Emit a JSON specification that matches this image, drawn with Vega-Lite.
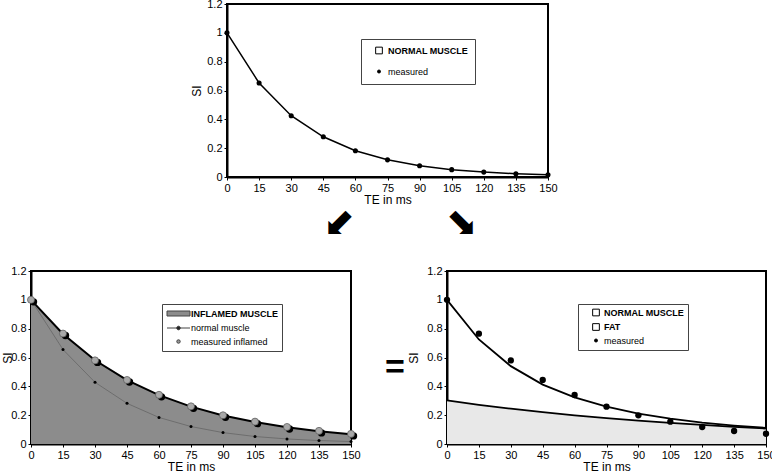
{
  "$schema": "https://vega.github.io/schema/vega-lite/v6.json",
  "background": "white",
  "padding": {"left": 0, "top": -3, "right": 0, "bottom": 0},
  "config": {
    "font": "Liberation Sans",
    "view": {"stroke": "black", "strokeWidth": 2},
    "axis": {"grid": false, "domainColor": "black", "domainWidth": 2, "tickColor": "black", "tickSize": 3, "tickWidth": 1, "labelColor": "black", "labelFontSize": 11, "labelFont": "Liberation Sans", "titleFont": "Liberation Sans", "titleFontSize": 12, "titleFontWeight": "normal", "titleColor": "black", "labelPadding": 2, "labelFlush": false, "labelOverlap": false},
    "legend": {"labelFont": "Liberation Sans", "labelFontSize": 9, "labelColor": "black", "symbolStrokeWidth": 1, "symbolFillColor": "white", "strokeColor": "#444", "fillColor": "white"}
  },
  "datasets": {
    "top": [
      {"series": "NORMAL MUSCLE", "TE": 0, "SI": 1}, {"series": "NORMAL MUSCLE", "TE": 15, "SI": 0.652}, {"series": "NORMAL MUSCLE", "TE": 30, "SI": 0.425}, {"series": "NORMAL MUSCLE", "TE": 45, "SI": 0.279}, {"series": "NORMAL MUSCLE", "TE": 60, "SI": 0.182}, {"series": "NORMAL MUSCLE", "TE": 75, "SI": 0.119}, {"series": "NORMAL MUSCLE", "TE": 90, "SI": 0.078}, {"series": "NORMAL MUSCLE", "TE": 105, "SI": 0.051}, {"series": "NORMAL MUSCLE", "TE": 120, "SI": 0.034}, {"series": "NORMAL MUSCLE", "TE": 135, "SI": 0.023}, {"series": "NORMAL MUSCLE", "TE": 150, "SI": 0.016},
      {"series": "measured", "TE": 0, "SI": 1}, {"series": "measured", "TE": 15, "SI": 0.652}, {"series": "measured", "TE": 30, "SI": 0.425}, {"series": "measured", "TE": 45, "SI": 0.279}, {"series": "measured", "TE": 60, "SI": 0.182}, {"series": "measured", "TE": 75, "SI": 0.119}, {"series": "measured", "TE": 90, "SI": 0.078}, {"series": "measured", "TE": 105, "SI": 0.051}, {"series": "measured", "TE": 120, "SI": 0.034}, {"series": "measured", "TE": 135, "SI": 0.023}, {"series": "measured", "TE": 150, "SI": 0.016}
    ],
    "left": [
      {"series": "INFLAMED MUSCLE", "TE": 0, "SI": 1}, {"series": "INFLAMED MUSCLE", "TE": 15, "SI": 0.763}, {"series": "INFLAMED MUSCLE", "TE": 30, "SI": 0.581}, {"series": "INFLAMED MUSCLE", "TE": 45, "SI": 0.443}, {"series": "INFLAMED MUSCLE", "TE": 60, "SI": 0.339}, {"series": "INFLAMED MUSCLE", "TE": 75, "SI": 0.259}, {"series": "INFLAMED MUSCLE", "TE": 90, "SI": 0.198}, {"series": "INFLAMED MUSCLE", "TE": 105, "SI": 0.152}, {"series": "INFLAMED MUSCLE", "TE": 120, "SI": 0.116}, {"series": "INFLAMED MUSCLE", "TE": 135, "SI": 0.089}, {"series": "INFLAMED MUSCLE", "TE": 150, "SI": 0.068},
      {"series": "normal muscle", "TE": 0, "SI": 1}, {"series": "normal muscle", "TE": 15, "SI": 0.655}, {"series": "normal muscle", "TE": 30, "SI": 0.428}, {"series": "normal muscle", "TE": 45, "SI": 0.282}, {"series": "normal muscle", "TE": 60, "SI": 0.184}, {"series": "normal muscle", "TE": 75, "SI": 0.121}, {"series": "normal muscle", "TE": 90, "SI": 0.079}, {"series": "normal muscle", "TE": 105, "SI": 0.052}, {"series": "normal muscle", "TE": 120, "SI": 0.035}, {"series": "normal muscle", "TE": 135, "SI": 0.024}, {"series": "normal muscle", "TE": 150, "SI": 0.017},
      {"series": "measured inflamed", "TE": 0, "SI": 1}, {"series": "measured inflamed", "TE": 15, "SI": 0.766}, {"series": "measured inflamed", "TE": 30, "SI": 0.58}, {"series": "measured inflamed", "TE": 45, "SI": 0.444}, {"series": "measured inflamed", "TE": 60, "SI": 0.341}, {"series": "measured inflamed", "TE": 75, "SI": 0.261}, {"series": "measured inflamed", "TE": 90, "SI": 0.199}, {"series": "measured inflamed", "TE": 105, "SI": 0.155}, {"series": "measured inflamed", "TE": 120, "SI": 0.118}, {"series": "measured inflamed", "TE": 135, "SI": 0.091}, {"series": "measured inflamed", "TE": 150, "SI": 0.07}
    ],
    "right": [
      {"series": "NORMAL MUSCLE", "TE": 0, "SI": 1}, {"series": "NORMAL MUSCLE", "TE": 15, "SI": 0.725}, {"series": "NORMAL MUSCLE", "TE": 30, "SI": 0.54}, {"series": "NORMAL MUSCLE", "TE": 45, "SI": 0.412}, {"series": "NORMAL MUSCLE", "TE": 60, "SI": 0.323}, {"series": "NORMAL MUSCLE", "TE": 75, "SI": 0.259}, {"series": "NORMAL MUSCLE", "TE": 90, "SI": 0.211}, {"series": "NORMAL MUSCLE", "TE": 105, "SI": 0.176}, {"series": "NORMAL MUSCLE", "TE": 120, "SI": 0.148}, {"series": "NORMAL MUSCLE", "TE": 135, "SI": 0.128}, {"series": "NORMAL MUSCLE", "TE": 150, "SI": 0.112},
      {"series": "FAT", "TE": 0, "SI": 0.303}, {"series": "FAT", "TE": 15, "SI": 0.272}, {"series": "FAT", "TE": 30, "SI": 0.245}, {"series": "FAT", "TE": 45, "SI": 0.221}, {"series": "FAT", "TE": 60, "SI": 0.199}, {"series": "FAT", "TE": 75, "SI": 0.179}, {"series": "FAT", "TE": 90, "SI": 0.162}, {"series": "FAT", "TE": 105, "SI": 0.146}, {"series": "FAT", "TE": 120, "SI": 0.132}, {"series": "FAT", "TE": 135, "SI": 0.119}, {"series": "FAT", "TE": 150, "SI": 0.107},
      {"series": "measured", "TE": 0, "SI": 1}, {"series": "measured", "TE": 15, "SI": 0.765}, {"series": "measured", "TE": 30, "SI": 0.58}, {"series": "measured", "TE": 45, "SI": 0.444}, {"series": "measured", "TE": 60, "SI": 0.34}, {"series": "measured", "TE": 75, "SI": 0.259}, {"series": "measured", "TE": 90, "SI": 0.199}, {"series": "measured", "TE": 105, "SI": 0.155}, {"series": "measured", "TE": 120, "SI": 0.118}, {"series": "measured", "TE": 135, "SI": 0.09}, {"series": "measured", "TE": 150, "SI": 0.071}
    ]
  },
  "spacing": 21,
  "resolve": {
    "scale": {"shape": "independent", "fill": "independent", "size": "independent"},
    "legend": {"shape": "independent", "fill": "independent", "size": "independent"}
  },
  "vconcat": [
    {
      "bounds": "flush",
      "spacing": 0,
      "resolve": {
        "scale": {"shape": "independent", "fill": "independent", "size": "independent"},
        "legend": {"shape": "independent", "fill": "independent", "size": "independent"}
      },
      "hconcat": [
        {
          "width": 196, "height": 173, "view": {"stroke": null},
          "data": {"values": [{"dir": "left", "glyph": "⬋"}, {"dir": "right", "glyph": "⬊"}]},
          "layer": [
            {"transform": [{"filter": "datum.dir == 'left'"}], "mark": {"type": "text", "font": "DejaVu Sans", "fontSize": 38, "color": "black", "baseline": "middle", "align": "center", "dx": 210, "dy": 133}, "encoding": {"text": {"field": "glyph"}}},
            {"transform": [{"filter": "datum.dir == 'right'"}], "mark": {"type": "text", "font": "DejaVu Sans", "fontSize": 38, "color": "black", "baseline": "middle", "align": "center", "dx": 333, "dy": 133}, "encoding": {"text": {"field": "glyph"}}}
          ]
        },
        {
          "width": 321, "height": 173,
          "data": {"name": "top"},
          "encoding": {
            "x": {"field": "TE", "type": "quantitative", "scale": {"domain": [0, 150], "nice": false}, "axis": {"values": [0, 15, 30, 45, 60, 75, 90, 105, 120, 135, 150], "title": "TE in ms", "titlePadding": 1}},
            "y": {"field": "SI", "type": "quantitative", "scale": {"domain": [0, 1.2], "nice": false}, "axis": {"values": [0, 0.2, 0.4, 0.6, 0.8, 1, 1.2], "format": "~g", "title": "SI", "titlePadding": 3}}
          },
          "layer": [
            {"transform": [{"filter": "datum.series == 'NORMAL MUSCLE'"}], "mark": {"type": "line", "color": "black", "strokeWidth": 1.5}},
            {"transform": [{"filter": "datum.series == 'measured'"}], "mark": {"type": "point", "filled": true, "color": "black", "opacity": 1, "size": 26}},
            {
              "mark": {"type": "point", "filled": true, "opacity": 0, "stroke": "black", "strokeWidth": 1},
              "encoding": {
                "shape": {"field": "series", "type": "nominal", "scale": {"domain": ["NORMAL MUSCLE", "measured"], "range": ["square", "circle"]}, "legend": {"title": null, "orient": "none", "legendX": 134, "legendY": 35, "padding": 7, "rowPadding": 11, "symbolOffset": 6.5, "labelOffset": 4.5, "labelFontWeight": {"expr": "upper(datum.label) == datum.label ? 'bold' : 'normal'"}}},
                "fill": {"field": "series", "type": "nominal", "scale": {"domain": ["NORMAL MUSCLE", "measured"], "range": ["white", "black"]}, "legend": {"title": null, "orient": "none", "legendX": 134, "legendY": 35, "padding": 7, "rowPadding": 11, "symbolOffset": 6.5, "labelOffset": 4.5, "labelFontWeight": {"expr": "upper(datum.label) == datum.label ? 'bold' : 'normal'"}}},
                "size": {"field": "series", "type": "nominal", "scale": {"type": "ordinal", "domain": ["NORMAL MUSCLE", "measured"], "range": [45, 9]}, "legend": {"title": null, "orient": "none", "legendX": 134, "legendY": 35, "padding": 7, "rowPadding": 11, "symbolOffset": 6.5, "labelOffset": 4.5, "labelFontWeight": {"expr": "upper(datum.label) == datum.label ? 'bold' : 'normal'"}}}
              }
            }
          ]
        }
      ]
    },
    {
      "bounds": "flush",
      "spacing": 0,
      "resolve": {
        "scale": {"shape": "independent", "fill": "independent", "size": "independent"},
        "legend": {"shape": "independent", "fill": "independent", "size": "independent"}
      },
      "hconcat": [
        {
          "width": 320, "height": 173,
          "data": {"name": "left"},
          "encoding": {
            "x": {"field": "TE", "type": "quantitative", "scale": {"domain": [0, 150], "nice": false}, "axis": {"values": [0, 15, 30, 45, 60, 75, 90, 105, 120, 135, 150], "title": "TE in ms", "titlePadding": 1}},
            "y": {"field": "SI", "type": "quantitative", "scale": {"domain": [0, 1.2], "nice": false}, "axis": {"values": [0, 0.2, 0.4, 0.6, 0.8, 1, 1.2], "format": "~g", "title": "SI", "titlePadding": -4}}
          },
          "layer": [
            {"transform": [{"filter": "datum.series == 'INFLAMED MUSCLE'"}], "mark": {"type": "area", "color": "#8c8c8c", "opacity": 1, "line": {"color": "black", "strokeWidth": 2}}},
            {"transform": [{"filter": "datum.series == 'normal muscle'"}], "mark": {"type": "line", "color": "#666666", "strokeWidth": 0.8, "point": {"filled": true, "fill": "black", "size": 9}}},
            {"transform": [{"filter": "datum.series == 'measured inflamed'"}], "mark": {"type": "point", "filled": true, "color": "black", "opacity": 1, "size": 55, "xOffset": 2.5, "yOffset": 2}},
            {"transform": [{"filter": "datum.series == 'measured inflamed'"}], "mark": {"type": "point", "filled": true, "fill": "#a8a8a8", "stroke": "#555555", "strokeWidth": 0.7, "opacity": 1, "size": 50}},
            {
              "mark": {"type": "point", "filled": true, "opacity": 0, "stroke": "#444444", "strokeWidth": 1},
              "encoding": {
                "shape": {"field": "series", "type": "nominal", "scale": {"domain": ["INFLAMED MUSCLE", "normal muscle", "measured inflamed"], "range": ["M-2.3,-0.5H2.3V0.5H-2.3Z", "M-2.3,0H2.3M0.36,0A0.36,0.36 0 1,1 -0.36,0A0.36,0.36 0 1,1 0.36,0Z", "circle"]}, "legend": {"title": null, "orient": "none", "legendX": 131, "legendY": 33, "padding": 4, "rowPadding": 3.5, "symbolOffset": 7, "labelOffset": 7, "labelFontWeight": {"expr": "upper(datum.label) == datum.label ? 'bold' : 'normal'"}}},
                "fill": {"field": "series", "type": "nominal", "scale": {"domain": ["INFLAMED MUSCLE", "normal muscle", "measured inflamed"], "range": ["#8c8c8c", "black", "#999999"]}, "legend": {"title": null, "orient": "none", "legendX": 131, "legendY": 33, "padding": 4, "rowPadding": 3.5, "symbolOffset": 7, "labelOffset": 7, "labelFontWeight": {"expr": "upper(datum.label) == datum.label ? 'bold' : 'normal'"}}},
                "size": {"field": "series", "type": "nominal", "scale": {"type": "ordinal", "domain": ["INFLAMED MUSCLE", "normal muscle", "measured inflamed"], "range": [100, 100, 12]}, "legend": {"title": null, "orient": "none", "legendX": 131, "legendY": 33, "padding": 4, "rowPadding": 3.5, "symbolOffset": 7, "labelOffset": 7, "labelFontWeight": {"expr": "upper(datum.label) == datum.label ? 'bold' : 'normal'"}}}
              }
            }
          ]
        },
        {
          "width": 96, "height": 173, "view": {"stroke": null},
          "data": {"values": [{"sign": "="}]},
          "mark": {"type": "text", "font": "Liberation Sans", "fontSize": 34, "fontWeight": "bold", "color": "black", "baseline": "middle", "align": "center", "dx": -4, "dy": 10},
          "encoding": {"text": {"field": "sign"}}
        },
        {
          "width": 319, "height": 173,
          "data": {"name": "right"},
          "encoding": {
            "x": {"field": "TE", "type": "quantitative", "scale": {"domain": [0, 150], "nice": false}, "axis": {"values": [0, 15, 30, 45, 60, 75, 90, 105, 120, 135, 150], "title": "TE in ms", "titlePadding": 1}},
            "y": {"field": "SI", "type": "quantitative", "scale": {"domain": [0, 1.2], "nice": false}, "axis": {"values": [0, 0.2, 0.4, 0.6, 0.8, 1, 1.2], "format": "~g", "title": "SI", "titlePadding": 6}}
          },
          "layer": [
            {"transform": [{"filter": "datum.series == 'FAT'"}], "mark": {"type": "area", "color": "#e8e8e8", "opacity": 1, "line": {"color": "black", "strokeWidth": 1.8}}},
            {"transform": [{"filter": "datum.series == 'NORMAL MUSCLE'"}], "mark": {"type": "line", "color": "black", "strokeWidth": 1.8}},
            {"transform": [{"filter": "datum.series == 'measured'"}], "mark": {"type": "point", "filled": true, "color": "black", "opacity": 1, "size": 40}},
            {
              "mark": {"type": "point", "filled": true, "opacity": 0, "stroke": "black", "strokeWidth": 1},
              "encoding": {
                "shape": {"field": "series", "type": "nominal", "scale": {"domain": ["NORMAL MUSCLE", "FAT", "measured"], "range": ["square", "square", "circle"]}, "legend": {"title": null, "orient": "none", "legendX": 131, "legendY": 33, "padding": 4, "rowPadding": 3.5, "symbolOffset": 9.5, "labelOffset": 3.5, "labelFontWeight": {"expr": "upper(datum.label) == datum.label ? 'bold' : 'normal'"}}},
                "fill": {"field": "series", "type": "nominal", "scale": {"domain": ["NORMAL MUSCLE", "FAT", "measured"], "range": ["white", "white", "black"]}, "legend": {"title": null, "orient": "none", "legendX": 131, "legendY": 33, "padding": 4, "rowPadding": 3.5, "symbolOffset": 9.5, "labelOffset": 3.5, "labelFontWeight": {"expr": "upper(datum.label) == datum.label ? 'bold' : 'normal'"}}},
                "size": {"field": "series", "type": "nominal", "scale": {"type": "ordinal", "domain": ["NORMAL MUSCLE", "FAT", "measured"], "range": [45, 45, 9]}, "legend": {"title": null, "orient": "none", "legendX": 131, "legendY": 33, "padding": 4, "rowPadding": 3.5, "symbolOffset": 9.5, "labelOffset": 3.5, "labelFontWeight": {"expr": "upper(datum.label) == datum.label ? 'bold' : 'normal'"}}}
              }
            }
          ]
        }
      ]
    }
  ]
}
